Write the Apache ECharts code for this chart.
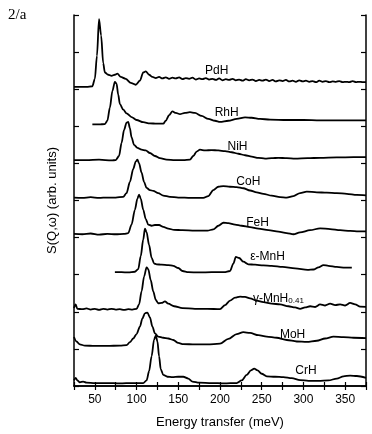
<!DOCTYPE html>
<html>
<head>
<meta charset="utf-8">
<script src="https://cdn.jsdelivr.net/npm/echarts@6/dist/echarts.min.js"></script>
<style>
html,body{margin:0;padding:0;background:#fff;}
#chart{width:372px;height:434px;}
</style>
</head>
<body>
<div id="chart"></div>
<script>
// Series names (top to bottom) and vertical offsets (arb. units)
const names = ['PdH','RhH','NiH','CoH','FeH','ε-MnH','γ-MnH0.41','MoH','CrH'];
const offsets = [8,7,6,5,4,3,2,1,0];
// Label anchor points in data space [energy, S]
const labelAnchors = [[196,8.51],[208,7.38],[221,6.46],[234,5.52],[245,4.41],[257,3.49],[270,2.41],[287,1.37],[303,0.42]];
// x-axis tick labels
const xTicks = [50,100,150,200,250,300,350];

// Each spectrum: [energy transfer (meV), intensity (arb.)]
const PdH = [[25,0.06],[40,0.06],[47,0.08],[50,0.28],[52.5,0.9],[55,1.89],[57.5,1.45],[60,0.7],[62,0.45],[66,0.39],[70,0.36],[74,0.39],[77,0.42],[81,0.33],[87,0.28],[93,0.17],[99,0.12],[104,0.23],[108,0.45],[111,0.48],[115,0.39],[119,0.33],
[123,0.30],[127,0.33],[131,0.29],[135,0.32],[139,0.28],[143,0.31],[147,0.29],[151,0.32],[155,0.27],[159,0.30],[163,0.28],[167,0.31],[171,0.26],[175,0.29],[179,0.27],[183,0.30],[187,0.26],[191,0.28],[195,0.25],[199,0.29],[203,0.24],[207,0.27],[211,0.25],[215,0.28],[219,0.24],[223,0.26],[227,0.23],[231,0.27],[235,0.24],[239,0.26],[243,0.22],[247,0.25],[251,0.23],[255,0.26],[259,0.22],[263,0.25],[267,0.21],[271,0.24],[275,0.22],[279,0.25],[283,0.21],[287,0.23],[291,0.2],[295,0.24],[299,0.21],[303,0.23],[307,0.2],[311,0.22],[315,0.19],[319,0.23],[323,0.2],[327,0.22],[331,0.19],[335,0.21],[339,0.2],[343,0.22],[347,0.19],[351,0.2],[355,0.19],[359,0.22],[363,0.19],[367,0.2],[371,0.19],[375,0.19]];
const RhH = [[47,0.05],[55,0.05],[62,0.06],[65,0.15],[68,0.5],[71,0.95],[74,1.2],[76,1.15],[78,0.85],[80,0.6],[84,0.45],[88,0.35],[94,0.25],[100,0.17],[108,0.11],[116,0.08],[124,0.07],[132,0.07],[135,0.15],[139,0.3],[143,0.4],[147,0.36],[152,0.33],[158,0.36],[164,0.38],[170,0.36],[178,0.28],[186,0.2],[194,0.15],[200,0.12],[210,0.15],[220,0.2],[230,0.24],[238,0.23],[248,0.2],[260,0.18],[280,0.17],[300,0.17],[320,0.16],[340,0.16],[360,0.16],[375,0.16]];
const NiH = [[25,0.09],[40,0.09],[55,0.1],[70,0.08],[75,0.09],[79,0.2],[82,0.55],[85,0.9],[88,1.1],[90,1.12],[92,0.95],[94,0.7],[97,0.5],[101,0.42],[106,0.37],[111,0.35],[116,0.28],[122,0.2],[128,0.14],[136,0.1],[146,0.09],[156,0.09],[164,0.1],[168,0.2],[172,0.32],[176,0.37],[182,0.35],[190,0.36],[198,0.35],[206,0.33],[214,0.3],[222,0.26],[230,0.22],[238,0.18],[246,0.15],[254,0.13],[262,0.14],[270,0.15],[280,0.14],[290,0.13],[305,0.14],[320,0.15],[340,0.16],[360,0.17],[375,0.17]];
const CoH = [[25,0.08],[35,0.07],[45,0.09],[55,0.07],[65,0.08],[75,0.08],[84,0.1],[88,0.2],[92,0.5],[96,0.85],[99,1.05],[101,1.1],[103,1.0],[106,0.75],[109,0.5],[112,0.34],[116,0.28],[120,0.26],[126,0.2],[132,0.13],[140,0.1],[150,0.08],[165,0.07],[180,0.07],[186,0.12],[192,0.28],[198,0.37],[204,0.39],[212,0.37],[220,0.36],[228,0.33],[236,0.27],[244,0.22],[252,0.18],[262,0.13],[272,0.09],[280,0.08],[288,0.12],[296,0.2],[304,0.24],[316,0.22],[328,0.21],[340,0.2],[352,0.18],[364,0.15],[375,0.14]];
const FeH = [[25,0.1],[35,0.09],[45,0.11],[55,0.08],[65,0.1],[75,0.09],[85,0.1],[90,0.12],[94,0.35],[98,0.75],[101,1.05],[103,1.16],[105,1.05],[108,0.75],[111,0.5],[114,0.35],[118,0.32],[122,0.34],[127,0.34],[132,0.29],[138,0.24],[145,0.21],[155,0.2],[170,0.19],[185,0.19],[192,0.22],[198,0.32],[204,0.4],[210,0.39],[218,0.35],[226,0.32],[236,0.28],[246,0.24],[258,0.2],[270,0.16],[280,0.12],[288,0.09],[296,0.14],[308,0.2],[320,0.25],[332,0.23],[344,0.2],[356,0.18],[366,0.17],[375,0.17]];
const eMnH = [[74,0.07],[82,0.07],[90,0.06],[98,0.08],[102,0.15],[105,0.5],[108,0.95],[110,1.24],[112,1.15],[115,0.8],[118,0.46],[121,0.3],[124,0.28],[130,0.27],[138,0.26],[144,0.24],[150,0.18],[155,0.1],[162,0.07],[175,0.06],[190,0.07],[205,0.07],[212,0.1],[216,0.3],[219,0.48],[223,0.45],[228,0.35],[234,0.28],[242,0.27],[252,0.25],[262,0.24],[275,0.21],[290,0.17],[305,0.13],[312,0.14],[318,0.2],[324,0.26],[330,0.24],[340,0.21],[350,0.19],[358,0.19]];
const gMnH = [[25,0.1],[27,0.2],[29,0.08],[35,0.07],[40,0.09],[45,0.06],[50,0.08],[55,0.05],[60,0.08],[65,0.06],[70,0.08],[75,0.06],[80,0.07],[85,0.05],[90,0.07],[95,0.06],[100,0.08],[103,0.2],[106,0.55],[109,0.95],[112,1.2],[114,1.15],[117,0.85],[120,0.55],[123,0.32],[126,0.23],[130,0.24],[134,0.28],[138,0.22],[145,0.15],[155,0.1],[170,0.08],[185,0.08],[200,0.07],[206,0.18],[212,0.3],[218,0.38],[224,0.41],[230,0.4],[236,0.36],[244,0.3],[252,0.26],[262,0.22],[272,0.2],[282,0.15],[290,0.12],[296,0.08],[302,0.12],[308,0.15],[314,0.13],[320,0.2],[326,0.17],[332,0.22],[338,0.18],[344,0.2],[350,0.17],[356,0.24],[362,0.2],[368,0.14],[375,0.13]];
const MoH = [[25,0.32],[28,0.2],[32,0.12],[38,0.09],[50,0.08],[65,0.08],[80,0.09],[88,0.1],[92,0.18],[96,0.28],[100,0.4],[104,0.6],[107,0.82],[110,0.96],[113,0.98],[116,0.85],[119,0.6],[122,0.42],[126,0.33],[132,0.3],[138,0.28],[144,0.24],[150,0.16],[156,0.13],[170,0.12],[185,0.12],[200,0.14],[210,0.27],[220,0.4],[228,0.45],[236,0.43],[246,0.37],[256,0.33],[268,0.3],[280,0.24],[292,0.2],[304,0.19],[316,0.22],[326,0.28],[336,0.33],[348,0.32],[360,0.3],[375,0.29]];
const CrH = [[25,0.15],[27,0.22],[29,0.15],[32,0.1],[36,0.12],[40,0.09],[50,0.08],[65,0.08],[80,0.07],[95,0.08],[108,0.08],[112,0.15],[115,0.4],[118,0.8],[121,1.25],[123,1.36],[125,1.2],[127,0.8],[129,0.45],[132,0.3],[137,0.25],[143,0.24],[150,0.25],[156,0.25],[162,0.2],[167,0.12],[175,0.09],[190,0.08],[205,0.07],[220,0.08],[226,0.15],[232,0.3],[237,0.42],[241,0.47],[245,0.42],[250,0.33],[256,0.26],[266,0.25],[276,0.24],[286,0.21],[296,0.16],[306,0.14],[318,0.14],[330,0.15],[340,0.2],[348,0.26],[356,0.28],[364,0.27],[375,0.22]];

const spectra = [PdH,RhH,NiH,CoH,FeH,eMnH,gMnH,MoH,CrH];

const FONT = '"Liberation Sans", Arial, Helvetica, sans-serif';
const chart = echarts.init(document.getElementById('chart'), null, {renderer:'canvas'});

const series = spectra.map((s,i)=>({
  type:'line', name:names[i], showSymbol:false, smooth:0.3, smoothMonotone:'x',
  lineStyle:{color:'#000', width:1.8}, itemStyle:{color:'#000'},
  data: s.map(p=>[p[0], p[1]+offsets[i]]), silent:true, z:3
}));

const axisLine = {show:true, lineStyle:{color:'#000', width:1.5}};
chart.setOption({
  animation:false,
  backgroundColor:'#fff',
  title:{text:'2/a', left:3, top:3, textStyle:{fontFamily:'"Liberation Serif","DejaVu Serif",serif', fontWeight:'normal', fontSize:15, color:'#000'}},
  grid:{left:74, right:6, top:15, bottom:45},
  xAxis:[{
    type:'value', min:25, max:375, interval:25, position:'bottom',
    axisLine:axisLine, axisTick:{show:true, inside:true, length:4, lineStyle:{color:'#000', width:1.2}},
    splitLine:{show:false},
    axisLabel:{color:'#000', fontFamily:FONT, fontSize:12, margin:8,
      formatter:v=> xTicks.indexOf(v)>=0 ? String(v) : ''},
    name:'Energy transfer (meV)', nameLocation:'middle', nameGap:30,
    nameTextStyle:{color:'#000', fontFamily:FONT, fontSize:13}
  },{
    type:'value', min:25, max:375, interval:25, position:'top',
    axisLine:axisLine, axisTick:{show:true, inside:true, length:4, lineStyle:{color:'#000', width:1.2}},
    splitLine:{show:false}, axisLabel:{show:false}
  }],
  yAxis:[{
    type:'value', min:0, max:10, interval:1, position:'left',
    axisLine:axisLine, axisTick:{show:true, inside:true, length:5, lineStyle:{color:'#000', width:1.2}},
    splitLine:{show:false}, axisLabel:{show:false},
    name:'S(Q,ω) (arb. units)', nameLocation:'middle', nameGap:15, nameRotate:90,
    nameTextStyle:{color:'#000', fontFamily:FONT, fontSize:13}
  },{
    type:'value', min:0, max:10, interval:1, position:'right',
    axisLine:axisLine, axisTick:{show:true, inside:true, length:5, lineStyle:{color:'#000', width:1.2}},
    splitLine:{show:false}, axisLabel:{show:false}
  }],
  series: series
});

// Curve labels placed through the chart's own coordinate conversion
const graphics = labelAnchors.map((a,i)=>{
  const p = chart.convertToPixel({xAxisIndex:0, yAxisIndex:0}, a);
  const isGamma = names[i]==='γ-MnH0.41';
  return {
    type:'text', x:p[0], y:p[1], z:10, silent:true,
    style:{
      text: isGamma ? '{a|γ-MnH}{s|0.41}' : names[i],
      fill:'#000', font:'12px ' + FONT, align:'center', verticalAlign:'middle',
      rich: isGamma ? {
        a:{fontSize:12, fontFamily:FONT, fill:'#000', lineHeight:16, verticalAlign:'bottom'},
        s:{fontSize:8, fontFamily:FONT, fill:'#000', lineHeight:16, verticalAlign:'bottom', padding:[6,0,0,0]}
      } : undefined
    }
  };
});
chart.setOption({graphic:{elements:graphics}});
</script>
</body>
</html>
